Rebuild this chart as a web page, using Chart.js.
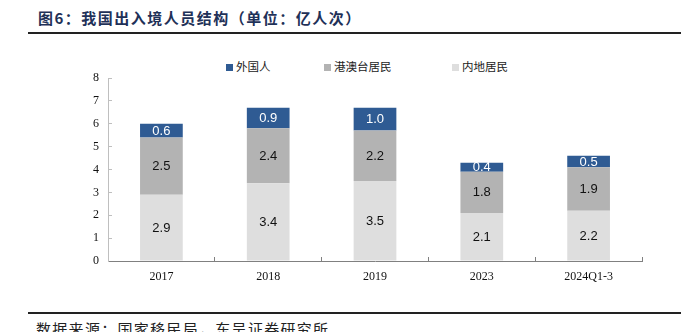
<!DOCTYPE html>
<html>
<head>
<meta charset="utf-8">
<script src="https://cdn.jsdelivr.net/npm/chart.js@4/dist/chart.umd.min.js"></script>
<style>
  html, body { margin: 0; padding: 0; background: #fff; }
  body { width: 681px; height: 332px; overflow: hidden; position: relative; font-family: "Noto Sans CJK SC", sans-serif; }
  #title { position: absolute; left: 38px; top: 7px; font-size: 15px; font-weight: bold; color: #1f3158; letter-spacing: 1.5px; white-space: nowrap; }
  .rule { position: absolute; left: 28px; right: 0; background: #222; }
  #legend { position: absolute; top: 58px; left: 0; width: 681px; height: 16px; font-size: 11.5px; color: #222; }
  #legend .item { position: absolute; top: 0; white-space: nowrap; line-height: 16px; }
  #legend .box { display: inline-block; width: 7px; height: 7px; margin-right: 3px; vertical-align: 0px; }
  #source { position: absolute; left: 36px; top: 318px; font-size: 15px; color: #222; white-space: nowrap; letter-spacing: 1.3px; }
  #wrap { position: absolute; left: 0; top: 40px; width: 681px; height: 260px; }
</style>
</head>
<body>
<div id="title">图6：我国出入境人员结构（单位：亿人次）</div>
<div class="rule" style="top:32px;height:2px;"></div>
<div id="legend"></div>
<div id="wrap"><canvas id="chart"></canvas></div>
<div class="rule" style="top:312px;height:1.5px;"></div>
<div id="source">数据来源：国家移民局，东吴证券研究所</div>

<script>
// categories and series (亿人次)
const years = ['2017', '2018', '2019', '2023', '2024Q1-3'];
const mainland = [2.9, 3.4, 3.5, 2.1, 2.2];     // 内地居民
const hkMacauTw = [2.5, 2.4, 2.2, 1.8, 1.9];    // 港澳台居民
const foreigners = [0.6, 0.9, 1.0, 0.4, 0.5];   // 外国人
const yTicks = [0, 1, 2, 3, 4, 5, 6, 7, 8];

const seriesNames = ['外国人', '港澳台居民', '内地居民'];
const seriesColors = ['#2f5b93', '#b3b3b3', '#dedede'];
const labelColors = ['#ffffff', '#111111', '#111111'];

// legend row
const legendX = [226, 324, 452];
const legendEl = document.getElementById('legend');
seriesNames.forEach((name, i) => {
  const item = document.createElement('div');
  item.className = 'item';
  item.style.left = legendX[i] + 'px';
  item.innerHTML = '<span class="box" style="background:' + seriesColors[i] + '"></span>' + name;
  legendEl.appendChild(item);
});

// value labels centred in each stacked segment
const segmentLabels = {
  id: 'segmentLabels',
  afterDatasetsDraw(chart) {
    const ctx = chart.ctx;
    ctx.save();
    ctx.font = '13px "Liberation Sans", Arial, sans-serif';
    ctx.textAlign = 'center';
    ctx.textBaseline = 'middle';
    chart.data.datasets.forEach((ds, di) => {
      const meta = chart.getDatasetMeta(di);
      meta.data.forEach((bar, i) => {
        const p = bar.getProps(['x', 'y', 'base'], true);
        ctx.fillStyle = ds.labelColor;
        ctx.fillText(ds.data[i].toFixed(1), p.x, (p.y + p.base) / 2 + 0.5);
      });
    });
    ctx.restore();
  }
};

const tickFont = { family: '"Liberation Serif", "Times New Roman", serif', size: 12 };

new Chart(document.getElementById('chart'), {
  type: 'bar',
  data: {
    labels: years,
    datasets: [
      { label: seriesNames[2], data: mainland, backgroundColor: seriesColors[2], labelColor: labelColors[2] },
      { label: seriesNames[1], data: hkMacauTw, backgroundColor: seriesColors[1], labelColor: labelColors[1] },
      { label: seriesNames[0], data: foreigners, backgroundColor: seriesColors[0], labelColor: labelColors[0] }
    ]
  },
  options: {
    responsive: true,
    maintainAspectRatio: false,
    animation: false,
    layout: { padding: { left: 58, right: 39, top: 38, bottom: 0 } },
    datasets: { bar: { categoryPercentage: 1, barPercentage: 0.4, borderWidth: 0 } },
    plugins: {
      legend: { display: false },
      tooltip: { enabled: false }
    },
    scales: {
      x: {
        stacked: true,
        grid: { offset: true, drawOnChartArea: false, drawTicks: true, tickLength: -4, color: '#808080' },
        border: { color: '#808080', width: 1 },
        ticks: { font: tickFont, color: '#111', padding: 13 },
        afterFit: s => { s.height = 39; }
      },
      y: {
        stacked: true,
        min: 0,
        max: 8,
        afterBuildTicks: s => { s.ticks = yTicks.map(v => ({ value: v })); },
        grid: { drawOnChartArea: false, drawTicks: true, tickLength: -4, color: '#bfbfbf' },
        border: { color: '#bfbfbf', width: 1 },
        ticks: { font: tickFont, color: '#111', padding: 13 },
        afterFit: s => { s.width = 50; }
      }
    }
  },
  plugins: [segmentLabels]
});
</script>
</body>
</html>
